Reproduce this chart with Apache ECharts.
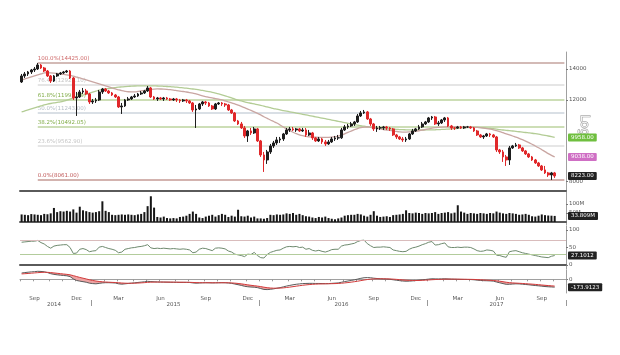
<!DOCTYPE html>
<html><head><meta charset="utf-8">
<script src="https://cdn.jsdelivr.net/npm/echarts@6/dist/echarts.min.js"></script>
<style>html,body{margin:0;padding:0;background:#fff}#c{width:620px;height:355px}</style>
</head><body><div id="c"></div><script>
// ---- data (weekly, starting Monday 2014-08-04) ----
const startDate = [2014, 7, 4];
const padWeeks = 3;
const open = [13124,13522,13657,13793,13931,14001,14282,14071,13862,13522,
13189,13522,13657,13725,13793,13862,13388,12120,12180,12487,
12549,12364,11881,11941,12000,12487,12675,12549,12425,12302,
12180,11590,11647,12000,12060,12180,12241,12364,12425,12549,
12738,12180,12060,12120,12060,12120,12060,12000,12060,12000,
11941,12000,11941,11822,11418,11475,11764,11881,11822,11647,
11475,11764,11822,11764,11705,11418,11249,10810,10650,10440,
10033,10286,10184,10389,9787,9128,8904,9266,9546,9690,
9835,9884,10133,10337,10389,10337,10389,10286,10337,10083,
10184,9934,9787,9884,9738,9642,9738,9884,9934,9941,
10337,10492,10545,10650,10757,11082,11249,11305,10918,10650,
10389,10440,10452,10492,10440,10389,10083,9983,9884,9835,
9884,10133,10286,10389,10492,10650,10757,10973,11027,10650,
10703,10864,10973,10545,10440,10431,10492,10440,10492,10492,
10440,10286,10083,9983,10033,10133,10083,9983,9358,9266,
9038,8904,9452,9546,9594,9452,9312,9174,9038,8904,
8772,8642,8472,8347,8264,8347];
const close = [13522,13657,13793,13931,14001,14282,14071,13862,13522,13189,
13522,13657,13725,13793,13862,13388,12120,12180,12487,12549,
12364,11881,11941,12000,12487,12675,12549,12425,12302,12180,
11590,11647,12000,12060,12180,12241,12364,12425,12549,12738,
12180,12060,12120,12060,12120,12060,12000,12060,12000,11941,
12000,11941,11822,11418,11475,11764,11881,11822,11647,11475,
11764,11822,11764,11705,11418,11249,10810,10650,10440,10033,
10286,10184,10389,9787,9128,8904,9266,9546,9690,9835,
9884,10133,10337,10389,10337,10389,10286,10337,10083,10184,
9934,9787,9884,9738,9642,9738,9884,9934,9941,10337,
10492,10545,10650,10757,11082,11249,11305,10918,10650,10389,
10440,10452,10492,10440,10389,10083,9983,9884,9835,9884,
10133,10286,10389,10492,10650,10757,10973,11027,10650,10703,
10864,10973,10545,10440,10431,10492,10440,10492,10492,10440,
10286,10083,9983,10033,10133,10083,9983,9358,9266,9038,
8904,9452,9546,9594,9452,9312,9174,9038,8904,8772,
8642,8472,8347,8264,8347,8223];
const high = [13657,13793,13862,14001,14141,14425,14353,14141,13931,13589,
13589,13725,13793,13862,13931,13931,13455,12487,12612,12738,
12675,12425,12060,12120,12612,12738,12738,12612,12487,12364,
12241,11822,12060,12180,12241,12364,12425,12549,12612,12865,
12802,12241,12180,12180,12180,12180,12120,12120,12120,12060,
12060,12060,12000,11881,11705,11822,11941,11941,11881,11705,
11822,11881,11881,11822,11764,11475,11305,10864,10757,10545,
10337,10440,10492,10440,9835,9266,9358,9642,9787,9983,
9983,10184,10440,10492,10492,10440,10440,10440,10440,10337,
10235,9983,9983,9934,9835,9835,9983,10033,10083,10440,
10597,10650,10757,10810,11193,11361,11418,11361,10973,10703,
10545,10545,10545,10545,10492,10440,10133,10033,9983,9983,
10184,10389,10440,10597,10757,10810,11027,11082,11082,10810,
10918,11027,11027,10597,10492,10545,10545,10545,10545,10545,
10492,10337,10133,10083,10184,10184,10133,10033,9405,9358,
9128,9546,9594,9690,9642,9499,9358,9220,9083,8949,
8816,8685,8642,8388,8388,8388];
const low = [13059,13388,13522,13657,13793,13931,14001,13793,13455,13059,
13124,13455,13589,13657,13725,13321,12000,11082,12120,12364,
12302,11764,11764,11822,11941,12364,12487,12364,12241,12120,
11532,11193,11590,11941,12000,12120,12180,12302,12364,12487,
12120,12000,11941,12000,11941,12000,11941,11941,11881,11822,
11881,11822,11764,11305,10440,11418,11647,11705,11590,11418,
11418,11705,11647,11590,11361,11193,10757,10597,10389,9934,
9738,10083,10133,9738,9038,8388,8729,9174,9452,9594,
9690,9787,10083,10235,10286,10235,10235,10235,9983,10033,
9835,9738,9738,9642,9546,9594,9690,9787,9835,9884,
10286,10389,10492,10545,10703,11027,11193,10864,10545,10286,
10235,10337,10337,10337,10286,10033,9884,9835,9738,9738,
9835,10083,10235,10337,10440,10597,10703,10864,10597,10545,
10650,10757,10492,10337,10337,10389,10389,10389,10440,10389,
10235,10033,9934,9884,9983,9983,9934,9266,9174,8816,
8642,8685,9405,9499,9405,9266,9128,8993,8860,8729,
8599,8430,8305,8182,8061,8142];
const maFast = [13255,13321,13388,13455,13522,13589,13657,13725,
13740,13735,13720,13690,13660,13630,13590,
13560,13510,13450,13388,13321,13255,
13189,13124,13059,12994,12930,12865,12802,
12738,12675,12620,12570,12530,12500,
12490,12495,12520,12555,12590,12620,12650,12668,12675,
12672,12665,12650,12630,12605,12575,12545,12515,12485,
12450,12410,12364,12302,
12250,12205,12160,12120,12085,12045,12000,11941,11881,11822,
11764,11700,11625,11550,11470,11390,11310,11230,11140,
11040,10950,10860,10780,10700,10597,10492,
10389,10300,10220,10150,10090,
10045,10010,9990,9978,9970,9965,9962,9962,9965,9975,
9995,10030,10080,10140,10210,10280,
10350,10410,10455,10480,10490,10475,10450,
10420,10390,10360,10335,10310,10285,10260,10240,
10230,10228,10235,10250,10270,10295,10325,10360,10395,10430,
10455,10472,10485,10492,10495,10495,10492,10490,10488,10486,10485,10480,10475,10468,
10455,10435,10410,10380,10345,10300,10250,
10195,10140,10085,10030,9975,9915,9850,9780,9705,
9625,9545,9460,9370,9280,9190,9110,9038];
const maSlow = [11305,11361,11418,11475,11532,11590,11647,11705,11750,11790,11825,11855,11885,
11930,11990,12050,12110,12175,12240,12300,12360,12420,12480,12540,12600,
12640,12675,12705,12735,12760,12785,12805,12825,12840,12852,12862,12868,12872,
12874,12874,12872,12868,12862,12855,12845,12832,12818,12802,12785,12765,12745,12722,12698,12672,12645,12615,
12580,12545,12505,12462,12415,12365,12310,12250,12185,12120,
12055,11995,11940,11890,11845,11805,11765,11725,11685,11640,11590,
11545,11500,11460,11420,11385,11350,11315,11280,11245,11210,
11175,11140,11105,11070,11035,11000,10965,10930,10895,10860,
10825,10790,10755,10720,10685,10650,
10615,10585,10555,10530,10505,10485,10465,10448,10432,10418,10405,10392,10380,10368,10358,
10350,10343,10338,10335,10333,10333,10334,10336,10339,10343,
10348,10355,10362,10370,10380,10392,10405,10420,10435,10450,10462,
10470,10472,10470,10462,10450,10435,10418,10398,10376,10352,
10335,10318,10300,10282,10264,10245,10226,10207,10188,10168,
10145,10120,10092,10062,10030,9995,9958];
const volume = [42,40,38,44,42,40,38,45,43,48,
78,55,60,58,62,58,70,52,85,65,
60,55,52,55,60,115,62,55,40,38,
40,42,40,42,40,38,42,45,55,88,
143,80,28,25,30,22,20,22,20,28,
30,35,45,58,45,25,22,30,35,40,
30,38,45,40,28,35,30,68,32,30,
35,25,30,20,20,18,22,40,38,42,
40,42,48,45,50,40,45,38,32,30,
25,22,28,25,30,22,18,15,20,25,
35,38,40,40,45,42,35,30,40,60,
35,28,30,32,28,38,40,42,45,65,
50,48,52,50,45,50,48,50,55,45,
50,52,55,48,52,93,58,52,45,50,
48,45,50,48,45,50,48,58,52,48,
45,50,48,45,40,42,45,40,32,30,
35,42,38,36,35,33.809];
const rsi = [65,66,67,68,68,70,64,60,53,48,
54,56,57,58,58,50,33,34,45,47,
44,38,40,41,51,53,50,47,45,42,
35,37,45,47,49,50,52,53,55,58,
49,47,48,47,48,47,46,47,46,45,
46,45,43,35,37,45,48,47,44,41,
48,49,48,46,40,37,31,29,27,24,
31,30,36,27,21,20,30,36,39,42,
43,48,52,53,52,53,50,51,45,47,
42,40,42,39,37,40,44,45,45,54,
57,58,60,62,67,70,71,61,55,50,
51,51,52,51,50,43,41,39,38,39,
45,49,51,54,58,61,65,67,57,58,
61,63,52,50,50,51,50,51,51,50,
46,41,39,40,43,42,40,28,27,24,
22,38,40,41,38,35,33,31,29,27,
25,23,22,21,25,27.1012];
const macd = [140,150,158,165,170,178,175,168,150,125,
110,100,92,85,78,60,10,-25,-40,-52,
-65,-85,-95,-100,-90,-80,-75,-75,-78,-82,
-100,-108,-100,-92,-85,-78,-70,-62,-55,-45,
-50,-55,-58,-60,-62,-63,-65,-66,-67,-68,
-68,-68,-70,-80,-85,-82,-78,-76,-77,-80,
-78,-76,-75,-76,-82,-90,-105,-120,-135,-155,
-165,-172,-175,-185,-205,-225,-228,-222,-212,-198,
-185,-168,-150,-135,-122,-110,-102,-95,-92,-90,
-90,-92,-92,-94,-96,-95,-90,-85,-80,-65,
-50,-38,-25,-12,5,22,35,38,35,25,
18,12,8,4,0,-10,-20,-30,-38,-42,
-40,-35,-28,-20,-12,-4,5,12,10,8,
10,12,8,4,2,0,-2,-3,-4,-5,
-10,-18,-25,-30,-32,-35,-40,-60,-78,-95,
-112,-110,-105,-100,-102,-108,-115,-122,-130,-138,
-145,-152,-160,-166,-170,-173.9123];
const signal = [120,125,130,136,142,148,153,156,155,150,
142,134,126,118,110,100,82,62,42,25,
8,-10,-25,-38,-48,-55,-60,-64,-68,-71,
-76,-82,-86,-88,-88,-86,-83,-79,-74,-68,
-64,-62,-61,-61,-61,-62,-62,-63,-64,-65,
-65,-66,-67,-70,-73,-75,-76,-76,-76,-77,
-77,-77,-76,-76,-77,-80,-85,-92,-101,-112,
-123,-133,-142,-151,-162,-175,-186,-193,-197,-197,
-195,-190,-182,-173,-163,-152,-142,-132,-124,-117,
-111,-107,-104,-102,-100,-99,-97,-95,-92,-87,
-80,-72,-63,-53,-42,-29,-16,-5,4,9,
11,12,11,10,8,4,-1,-7,-13,-19,
-23,-26,-26,-25,-22,-19,-14,-9,-5,-2,
0,3,4,4,4,3,2,1,0,-1,
-3,-6,-10,-14,-18,-22,-26,-33,-42,-53,
-65,-74,-80,-84,-88,-92,-97,-102,-107,-113,
-119,-126,-133,-139,-145,-151];
const priceTicks = [8000, 12000, 14000];
const volTicks = [50, 100];
const rsiTicks = [0, 50, 100];
const rsiLevels = [70, 30];
const macdTicks = [0];
const fibRatios = [1, 0.764, 0.618, 0.5, 0.382, 0.236, 0];
const monthNames = ['Jan','Feb','Mar','Apr','May','Jun','Jul','Aug','Sep','Oct','Nov','Dec'];

// ---- categories ----
const N = close.length;
const dates = [], dObjs = [];
const t0 = Date.UTC(startDate[0], startDate[1], startDate[2]);
for (let i = 0; i < N + padWeeks; i++) {
  const d = new Date(t0 + i * 7 * 864e5);
  dObjs.push(d); dates.push(d.toISOString().slice(0, 10));
}
const isMonthStart = i => dObjs[i].getUTCDate() <= 7;
const isQuarterLabel = i => isMonthStart(i) && [2,5,8,11].includes(dObjs[i].getUTCMonth());
const isYearStart = i => isMonthStart(i) && dObjs[i].getUTCMonth() === 0;
const yearMid = {};
(function(){
  const groups = {};
  dObjs.forEach((d, i) => { const y = d.getUTCFullYear(); (groups[y] = groups[y] || []).push(i); });
  Object.keys(groups).forEach(y => { const g = groups[y]; yearMid[Math.floor((g[0] + g[g.length-1]) / 2)] = y; });
})();

const FONT = 'DejaVu Sans';
const hi = Math.max(...high), lo = Math.min(...low), hiIdx = high.indexOf(hi);
const fibStyle = {
  1: ['#c4a39e', '#cf6a6a'], 0.764: ['#dcdcdc', '#c4c4c4'], 0.618: ['#bcd39e', '#7fab45'],
  0.5: ['#cdd5dc', '#b5bec6'], 0.382: ['#bcd39e', '#7fab45'], 0.236: ['#dedede', '#c4c4c4'], 0: ['#c49a95', '#c05a5a']
};
const fibLines = fibRatios.map(r => {
  const v = lo + r * (hi - lo);
  const st = fibStyle[r];
  return [{
    coord: [dates[hiIdx], v],
    lineStyle: { color: st[0], width: 1.5, type: 'solid' },
    label: { show: true, position: 'insideStartTop', distance: [0, 1], color: st[1], fontSize: 5.5, fontFamily: FONT,
      formatter: (r * 100).toFixed(1) + '%(' + v.toFixed(2) + ')' }
  }, { coord: [dates[dates.length - 1], v] }];
});
function tag(value, text, bg, color) {
  return { yAxis: value, lineStyle: { color: 'rgba(0,0,0,0)', width: 1 }, symbol: 'none',
    label: { show: true, position: 'end', distance: 2, formatter: text, backgroundColor: bg, color: color || '#fff',
      fontSize: 5.5, fontFamily: FONT, padding: [1, 3, 1, 3], borderRadius: 1, opacity: 1 } };
}
const band = macd.map((v, i) => Math.max(0, signal[i] - v));

const xBase = (gi) => ({
  type: 'category', gridIndex: gi, data: dates, boundaryGap: true,
  axisLine: { show: true, lineStyle: { color: '#5a5a5a', width: 2 } },
  axisTick: { show: false }, axisLabel: { show: false }, splitLine: { show: false }
});
const yRight = (gi, extra) => Object.assign({
  gridIndex: gi, position: 'right', scale: false,
  axisLine: { show: true, lineStyle: { color: '#a0a0a0', width: 1 } },
  splitLine: { show: false }
}, extra);
const labelStyle = { fontSize: 5.5, color: '#555', fontFamily: FONT, margin: 3 };

const option = {
  animation: false,
  backgroundColor: '#fff',
  textStyle: { fontFamily: FONT },
  grid: [
    { left: 20, right: 54, top: 52, height: 139 },
    { left: 20, right: 54, top: 192, height: 33 },
    { left: 20, right: 54, top: 226, height: 43 },
    { left: 20, right: 54, top: 270, height: 23 }
  ],
  xAxis: [
    xBase(0), xBase(1), xBase(2),
    Object.assign(xBase(3), {
      axisLine: { show: true, lineStyle: { color: '#a0a0a0', width: 1 } },
      axisTick: { show: true, interval: (i) => isMonthStart(i), length: 2, lineStyle: { color: '#999' } },
      axisLabel: { show: true, interval: (i) => isQuarterLabel(i), formatter: (v) => monthNames[new Date(v).getUTCMonth()],
        fontSize: 5.5, color: '#555', fontFamily: FONT, margin: 3 }
    }),
    Object.assign(xBase(3), {
      position: 'bottom', offset: 7,
      axisLine: { show: false },
      axisTick: { show: true, interval: (i) => isYearStart(i), length: 6, inside: false, lineStyle: { color: '#999' } },
      axisLabel: { show: true, interval: (i) => yearMid[i] !== undefined, formatter: (v, i) => yearMid[i] || '',
        fontSize: 5.5, color: '#555', fontFamily: FONT, margin: 2 }
    })
  ],
  yAxis: [
    yRight(0, { type: 'log', logBase: 10, min: 7629, max: 15234,
      axisTick: { show: true, length: 2, customValues: priceTicks, lineStyle: { color: '#777' } },
      axisLabel: Object.assign({ customValues: priceTicks, formatter: v => String(Math.round(v)) }, labelStyle) }),
    yRight(1, { type: 'value', min: -16.7, max: 166.7,
      axisTick: { show: true, length: 2, customValues: volTicks, lineStyle: { color: '#777' } },
      axisLabel: Object.assign({ customValues: volTicks, formatter: v => v + 'M' }, labelStyle) }),
    yRight(2, { type: 'value', min: -11.4, max: 111.4,
      axisTick: { show: true, length: 2, customValues: rsiTicks, lineStyle: { color: '#777' } },
      axisLabel: Object.assign({ customValues: rsiTicks }, labelStyle) }),
    yRight(3, { type: 'value', min: -304, max: 207,
      axisTick: { show: true, length: 2, customValues: macdTicks, lineStyle: { color: '#777' } },
      axisLabel: Object.assign({ customValues: macdTicks }, labelStyle) })
  ],
  series: [
    { type: 'line', name: 'MA slow', xAxisIndex: 0, yAxisIndex: 0, data: maSlow, symbol: 'none', smooth: 0.4,
      lineStyle: { color: '#b3cc95', width: 1.3 }, z: 2,
      markLine: { silent: true, symbol: 'none', data: [tag(maSlow[N-1], maSlow[N-1].toFixed(2), '#6fbf3f')] } },
    { type: 'line', name: 'MA fast', xAxisIndex: 0, yAxisIndex: 0, data: maFast, symbol: 'none', smooth: 0.4,
      lineStyle: { color: '#c9a6a2', width: 1.3 }, z: 2,
      markLine: { silent: true, symbol: 'none', data: [tag(maFast[N-1], maFast[N-1].toFixed(2), '#cf6fc4')] } },
    { type: 'candlestick', name: 'Price', xAxisIndex: 0, yAxisIndex: 0, barWidth: '72%',
      data: open.map((o, i) => [o, close[i], low[i], high[i]]),
      itemStyle: { color: '#1e1e1e', color0: '#e0282a', borderColor: '#1e1e1e', borderColor0: '#e0282a', borderWidth: 1 },
      z: 3,
      markLine: { silent: true, symbol: 'none', z: 1, data: fibLines.concat([tag(close[N-1], close[N-1].toFixed(2), '#222')]) } },
    { type: 'bar', name: 'Volume', xAxisIndex: 1, yAxisIndex: 1, data: volume, barWidth: '62%',
      itemStyle: { color: '#161616' },
      markLine: { silent: true, symbol: 'none', data: [tag(volume[N-1], volume[N-1].toFixed(3) + 'M', '#222')] } },
    { type: 'line', name: 'RSI', xAxisIndex: 2, yAxisIndex: 2, data: rsi, symbol: 'none',
      lineStyle: { color: '#6e8a6e', width: 1 },
      markLine: { silent: true, symbol: 'none', data: [
        { yAxis: rsiLevels[0], lineStyle: { color: '#d9bcbc', width: 1.2, type: 'solid' }, label: { show: false } },
        { yAxis: rsiLevels[1], lineStyle: { color: '#b3cc9c', width: 1.2, type: 'solid' }, label: { show: false } },
        tag(rsi[N-1], rsi[N-1].toFixed(4), '#222')
      ] } },
    { type: 'line', name: 'base', xAxisIndex: 3, yAxisIndex: 3, data: macd, stack: 'm', stackStrategy: 'all',
      symbol: 'none', lineStyle: { opacity: 0 }, silent: true },
    { type: 'line', name: 'band', xAxisIndex: 3, yAxisIndex: 3, data: band, stack: 'm', stackStrategy: 'all',
      symbol: 'none', lineStyle: { opacity: 0 }, areaStyle: { color: '#eea3a3', opacity: 1 }, silent: true },
    { type: 'line', name: 'MACD', xAxisIndex: 3, yAxisIndex: 3, data: macd, symbol: 'none',
      lineStyle: { color: '#5a5a5a', width: 1 },
      markLine: { silent: true, symbol: 'none', data: [tag(macd[N-1], macd[N-1].toFixed(4), '#222')] } },
    { type: 'line', name: 'Signal', xAxisIndex: 3, yAxisIndex: 3, data: signal, symbol: 'none',
      lineStyle: { color: '#d23b3b', width: 1 } }
  ],
  graphic: [
    { type: 'text', left: 578, top: 114, rotation: -Math.PI / 2,
      style: { text: 'Log', font: '12px "DejaVu Sans"', fill: '#f4f4f4', stroke: '#8f8f8f', lineWidth: 0.9 } }
  ]
};
const chart = echarts.init(document.getElementById('c'), null, { renderer: 'canvas' });
chart.setOption(option);
</script></body></html>
